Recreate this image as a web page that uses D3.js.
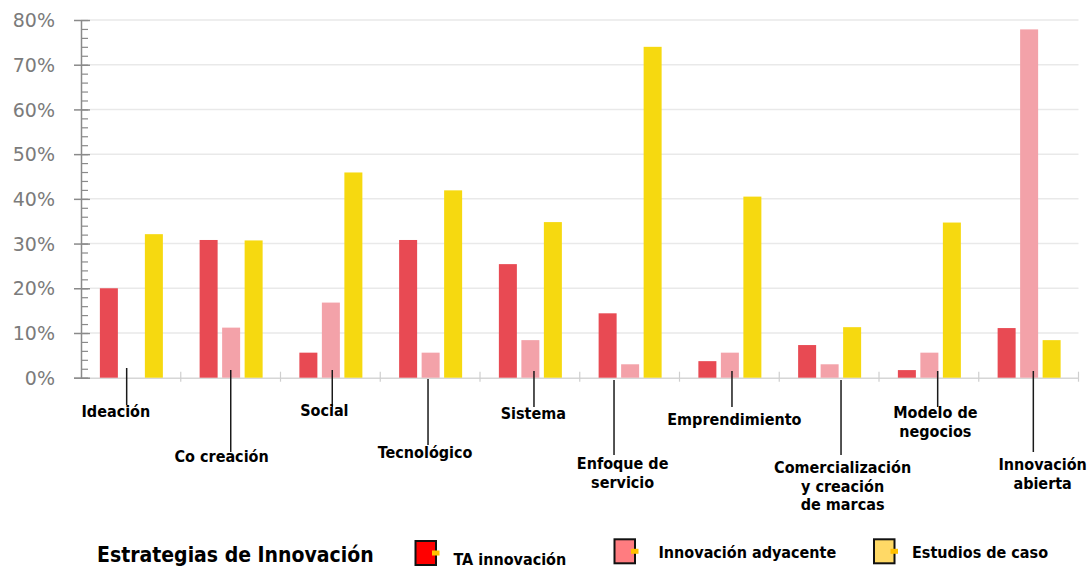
<!DOCTYPE html>
<html lang="es">
<head>
<meta charset="utf-8">
<title>Estrategias de Innovación</title>
<script src="https://cdn.jsdelivr.net/npm/d3@7"></script>
<style>
  html, body { margin: 0; padding: 0; background: #ffffff; }
  svg { display: block; }
  .cat-label, .legend-label, .legend-title {
    font-family: "DejaVu Sans Condensed", "DejaVu Sans", sans-serif;
    font-weight: bold;
    fill: #000;
  }
  .y-label { font-family: "DejaVu Sans", Verdana, sans-serif; fill: #7b7b7b; }
</style>
</head>
<body>
<svg id="chart" width="1090" height="569"></svg>
<script>
// ---- data ----
const categories = [
  "Ideación", "Co creación", "Social", "Tecnológico", "Sistema",
  "Enfoque de servicio", "Emprendimiento",
  "Comercialización y creación de marcas", "Modelo de negocios", "Innovación abierta"
];
// wrapped text of each category label
const categoryLines = [
  ["Ideación"], ["Co creación"], ["Social"], ["Tecnológico"], ["Sistema"],
  ["Enfoque de", "servicio"], ["Emprendimiento"],
  ["Comercialización", "y creación", "de marcas"], ["Modelo de", "negocios"],
  ["Innovación", "abierta"]
];
const seriesNames = ["TA innovación", "Innovación adyacente", "Estudios de caso"];
const taInnovacion        = [0.200, 0.308, 0.056, 0.308, 0.254, 0.144, 0.037, 0.073, 0.017, 0.111];
const innovacionAdyacente = [0.000, 0.112, 0.168, 0.056, 0.084, 0.030, 0.056, 0.030, 0.056, 0.779];
const estudiosDeCaso      = [0.321, 0.307, 0.459, 0.419, 0.348, 0.740, 0.405, 0.113, 0.347, 0.084];
const yTicks = [0, 0.1, 0.2, 0.3, 0.4, 0.5, 0.6, 0.7, 0.8];
const legendTitle = "Estrategias de Innovación";

// ---- styling / layout ----
const barColors    = ["#E84A53", "#F3A2A9", "#F6D910"];
const swatchColors = ["#FF0000", "#FF7C80", "#FFD966"];

// callout placement for each category label, relative to the group centre
const labelDx    = [-15, -9, -6, -5, 3.5, -7, 5, 13.5, 6.5, 14];
const labelY     = [417, 461.5, 416, 458.3, 419.3, 469, 425, 473.3, 418.3, 470];
const leaderDx   = [-4.2, 0.1, 1.9, -2.1, 4.1, -15.6, 2.6, 11.9, 8.8, 4.7];
const leaderTop  = [368, 370, 370, 379, 371, 380, 371, 380, 371, 371];
const leaderBot  = [405, 452, 407, 445, 407, 455, 407, 455, 407, 452];

const svg = d3.select("#chart");
svg.append("rect").attr("width", 1090).attr("height", 569).attr("fill", "#fff");

const plot = { left: 81, right: 1078.5, top: 20, bottom: 377.7 };

const x0 = d3.scaleBand().domain(categories).range([plot.left, plot.right]).padding(0);
const x1 = d3.scaleBand().domain(seriesNames).range([0, 63]).paddingInner(0.2);
const y  = d3.scaleLinear().domain([0, 0.8]).range([plot.bottom, plot.top]);

const seriesValues = [taInnovacion, innovacionAdyacente, estudiosDeCaso];
const rows = categories.map((c, i) => ({
  cat: c, i,
  values: seriesNames.map((s, k) => ({ series: s, k, v: seriesValues[k][i] }))
}));

// gridlines
svg.append("g")
  .selectAll("line")
  .data(yTicks.filter(t => t > 0))
  .join("line")
  .attr("x1", 90).attr("x2", plot.right)
  .attr("y1", d => y(d)).attr("y2", d => y(d))
  .attr("stroke", "#e9e9e9").attr("stroke-width", 1.5);

// x axis baseline with category separators
const xAxis = d3.axisBottom(x0).tickValues([]).tickSizeOuter(0);
const xg = svg.append("g").attr("transform", `translate(0,${plot.bottom})`).call(xAxis);
xg.select(".domain").attr("stroke", "#d6d6d6").attr("stroke-width", 1.5);
xg.append("line").attr("x1", 74).attr("x2", plot.left).attr("stroke", "#d6d6d6").attr("stroke-width", 1.5);
xg.selectAll(".sep")
  .data(categories.slice(1).concat(["end"]))
  .join("line")
  .attr("class", "sep")
  .attr("x1", (d, i) => plot.left + x0.step() * (i + 1))
  .attr("x2", (d, i) => plot.left + x0.step() * (i + 1))
  .attr("y1", -6).attr("y2", 4)
  .attr("stroke", "#cfcfcf").attr("stroke-width", 1.2);

// bars
const groups = svg.append("g")
  .selectAll("g")
  .data(rows)
  .join("g")
  .attr("transform", d => `translate(${x0(d.cat) + x0.bandwidth() / 2 - 31},0)`);

groups.selectAll("rect")
  .data(d => d.values.filter(v => v.v > 0))
  .join("rect")
  .attr("x", d => x1(d.series))
  .attr("width", x1.bandwidth())
  .attr("y", d => y(d.v))
  .attr("height", d => y(0) - y(d.v))
  .attr("fill", d => barColors[d.k]);

// y axis: major ticks every 10%, minor ticks every 2%
const yAxisG = svg.append("g").attr("transform", `translate(${plot.left},0)`);
const minorTicks = d3.range(0, 0.8001, 0.02);
yAxisG.append("g")
  .call(d3.axisRight(y).tickValues(minorTicks).tickSize(7).tickFormat(""))
  .call(g => g.select(".domain").remove())
  .selectAll("line").attr("stroke", "#8a8a8a").attr("stroke-width", 1.2);
const yMajor = yAxisG.append("g")
  .call(d3.axisLeft(y).tickValues(yTicks).tickSize(7).tickFormat(d3.format(".0%")).tickSizeOuter(0));
yMajor.select(".domain").attr("stroke", "#8a8a8a").attr("stroke-width", 1.5);
yMajor.selectAll(".tick line").attr("stroke", "#8a8a8a").attr("stroke-width", 1.5)
  .attr("x2", -7).attr("x1", 9);
yMajor.selectAll(".tick text")
  .attr("class", "y-label")
  .attr("x", -26)
  .attr("dy", "0.35em")
  .attr("font-size", 19)
  .attr("font-family", null)
  .attr("fill", "#7b7b7b");

// category callouts
const labels = svg.append("g");
rows.forEach((r, i) => {
  const cx = x0(r.cat) + x0.bandwidth() / 2;
  labels.append("line")
    .attr("x1", cx + leaderDx[i]).attr("x2", cx + leaderDx[i])
    .attr("y1", leaderTop[i]).attr("y2", leaderBot[i])
    .attr("stroke", "#1a1a1a").attr("stroke-width", 1.5);
  const t = labels.append("text")
    .attr("class", "cat-label")
    .attr("text-anchor", "middle")
    .attr("font-size", 16);
  categoryLines[i].forEach((line, j) => {
    t.append("tspan")
      .attr("x", cx + labelDx[i])
      .attr("y", labelY[i] + j * 18.5)
      .text(line);
  });
});

// legend
const legend = svg.append("g");
legend.append("text")
  .attr("class", "legend-title")
  .attr("x", 97).attr("y", 561.7)
  .attr("font-size", 21)
  .text(legendTitle);

const legendItems = [
  { sx: 414.5, sy: 540, tx: 453.5, ty: 565 },
  { sx: 613.5, sy: 538.3, tx: 658.5, ty: 558.3 },
  { sx: 873, sy: 538.3, tx: 912, ty: 558.3 }
];
seriesNames.forEach((name, k) => {
  const it = legendItems[k];
  legend.append("rect")
    .attr("x", it.sx + 1).attr("y", it.sy + 1)
    .attr("width", 20.5).attr("height", 24)
    .attr("fill", swatchColors[k])
    .attr("stroke", "#111").attr("stroke-width", 2);
  legend.append("rect")
    .attr("x", it.sx + 17.5).attr("y", it.sy + 10.5)
    .attr("width", 7.5).attr("height", 5)
    .attr("fill", "#FFC000");
  legend.append("text")
    .attr("class", "legend-label")
    .attr("x", it.tx).attr("y", it.ty)
    .attr("font-size", 16)
    .text(name);
});
</script>
</body>
</html>
